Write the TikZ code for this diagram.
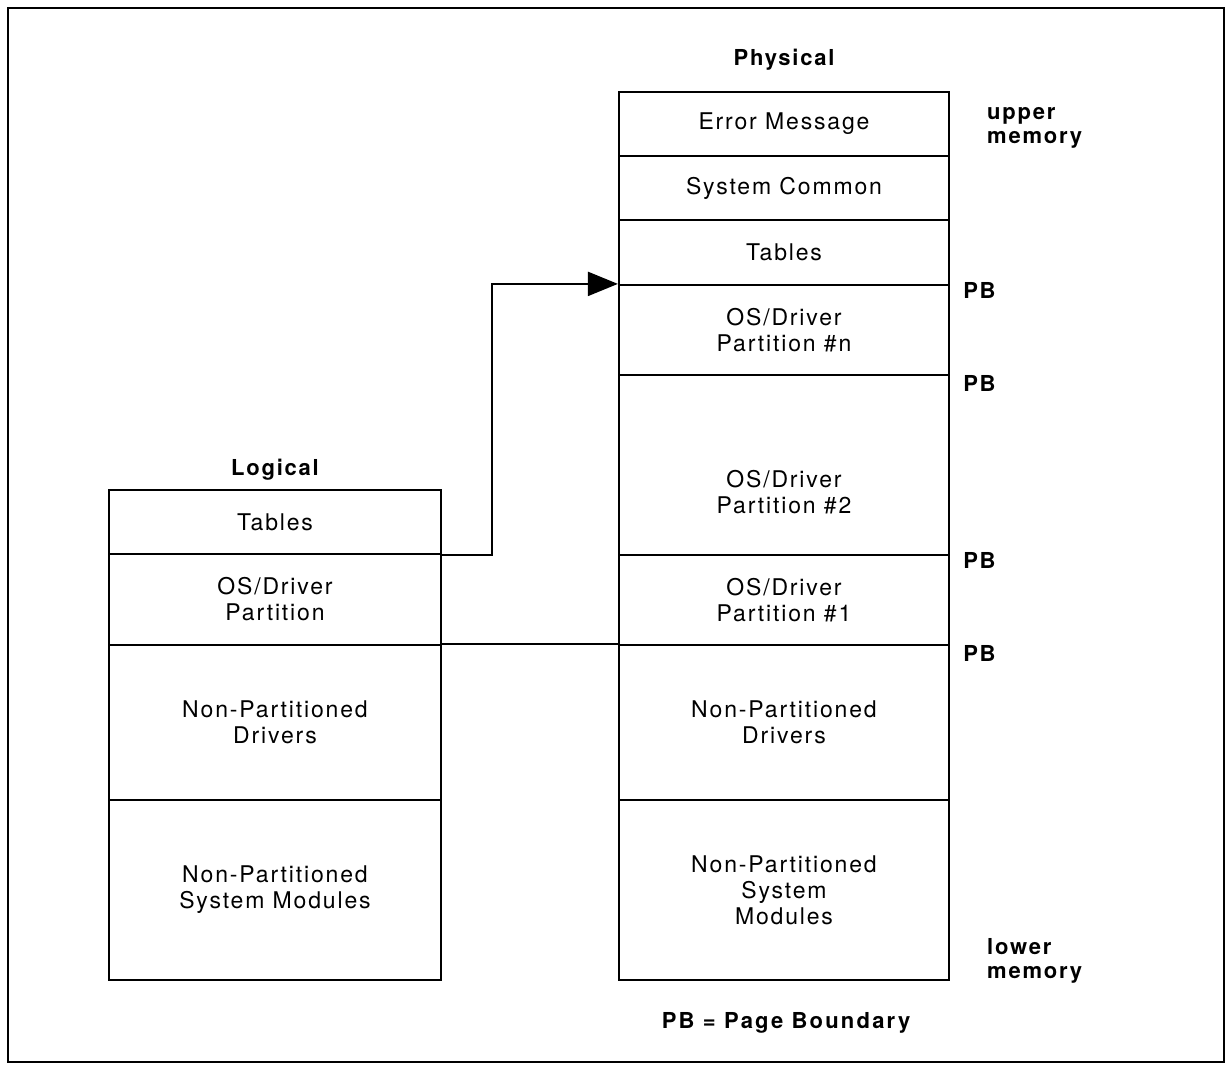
\documentclass[tikz,border=0pt]{standalone}
\usepackage{fontspec}
\setmainfont{TeX Gyre Heros}
\newfontfamily\rowfont[LetterSpace=8]{TeX Gyre Heros}
\newfontfamily\boldfont[LetterSpace=8]{TeX Gyre Heros Bold}
\newfontfamily\legendfont[LetterSpace=10]{TeX Gyre Heros Bold}
\usetikzlibrary{arrows.meta}
\tikzset{
  row/.style={draw, line width=2.2pt, inner sep=0pt, align=center,
    font=\rowfont\fontsize{23}{26}\selectfont},
  lrow/.style={row, minimum width=332pt},
  prow/.style={row, minimum width=330pt},
  heading/.style={inner sep=0pt, font=\boldfont\fontsize{22}{24}\selectfont, align=left},
  link/.style={line width=2.2pt},
}
\begin{document}
\begin{tikzpicture}[x=1pt,y=-1pt]
\useasboundingbox (0,0) rectangle (1227,1066);
\draw[line width=1.5pt] (8,8) rectangle (1224,1062);

% Physical column
\node[prow, minimum height=64pt] (err) at (784,124) {Error Message};
\node[prow, minimum height=64pt] (sys) at (784,188) {System Common};
\node[prow, minimum height=65pt] (ptab) at (784,252.5) {Tables};
\node[prow, minimum height=90pt] (pn) at (784,330) {OS/Driver\\Partition \#n};
\node[prow, minimum height=180pt] (p2) at (784,465) {};
\node[prow, minimum height=90pt] (p1) at (784,600) {OS/Driver\\Partition \#1};
\node[prow, minimum height=155pt] (pdrv) at (784,722.5) {Non-Partitioned\\Drivers};
\node[prow, minimum height=180pt] (pmod) at (784,890) {Non-Partitioned\\System\\Modules};
\node[inner sep=0pt, align=center, font=\rowfont\fontsize{23}{26}\selectfont] (p2t) at (784,492) {OS/Driver\\Partition \#2};

% Logical column
\node[lrow, minimum height=64pt] (ltab) at (275,522) {Tables};
\node[lrow, minimum height=91pt] (los) at (275,599.5) {OS/Driver\\Partition};
\node[lrow, minimum height=155pt] (ldrv) at (275,722.5) {Non-Partitioned\\Drivers};
\node[lrow, minimum height=180pt] (lmod) at (275,890) {Non-Partitioned\\System Modules};

% headings
\node[heading] (phys) at (784,60) {Physical};
\node[heading] (logi) at (275,470) {Logical};
\node[heading, anchor=west] (upper) at (987,128) {upper\\memory};
\node[heading, anchor=west] (lower) at (987,961) {lower\\memory};
\node[heading, anchor=west] (pb1) at ([xshift=13pt,yshift=-7pt]pn.north east) {PB};
\node[heading, anchor=west] (pb2) at ([xshift=13pt,yshift=-7pt]pn.south east) {PB};
\node[heading, anchor=west] (pb3) at ([xshift=13pt,yshift=-7pt]p1.north east) {PB};
\node[heading, anchor=west] (pb4) at ([xshift=13pt,yshift=-7pt]p1.south east) {PB};
\node[inner sep=0pt, font=\legendfont\fontsize{22}{24}\selectfont] (legend) at (786,1023) {PB = Page Boundary};

% connectors
\draw[link, -{Triangle[length=30pt,width=24pt]}] (ltab.south east) -- ++(50,0) |- (pn.north west);
\draw[link] (ldrv.north east) -- (pdrv.north west);
\end{tikzpicture}
\end{document}
